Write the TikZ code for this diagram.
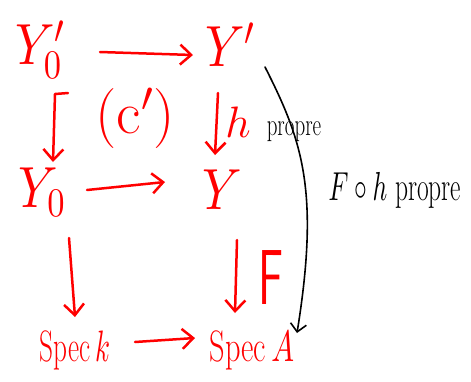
\documentclass[tikz,border=0pt]{standalone}
\DeclareFontShape{OML}{cmm}{m}{it}{<->cmmi10}{}
\DeclareFontShape{OMS}{cmsy}{m}{n}{<->cmsy10}{}
\DeclareFontShape{OT1}{cmr}{m}{n}{<->cmr10}{}
\usetikzlibrary{arrows.meta}
\begin{document}
\begin{tikzpicture}[x=1pt,y=-1pt,
  lab/.style={text=red, inner sep=0pt, font=\fontsize{58}{58}\selectfont},
  slab/.style={text=red, inner sep=0pt, font=\fontsize{44}{44}\selectfont},
  blab/.style={text=black, inner sep=0pt},
  arr/.style={draw=red, line width=2.5pt, line cap=round, line join=round,
    -{Straight Barb[length=11pt,width=20pt,line width=2.5pt]}},
  barr/.style={draw=black, line width=1.6pt, line cap=round,
    -{Straight Barb[length=8pt,width=16pt,line width=1.6pt]}}
]
\useasboundingbox (0,0) rectangle (471,381);
\node[lab] (Y0p) at (40,50) {\scalebox{0.85}[1]{$Y_0'$}};
\node[lab] (Yp) at (230,45) {\scalebox{0.85}[1]{$Y'$}};
\node[lab, font=\fontsize{60}{60}\selectfont] (c) at (135,118) {(c$'$)};
\node[slab] (h) at (238,122) {$h$};
\node[blab, font=\fontsize{21}{21}\selectfont] (pr) at (294,132) {\scalebox{1}[1.5]{propre}};
\node[lab] (Y0) at (42,192) {\scalebox{0.85}[1]{$Y_0$}};
\node[lab] (Y) at (222,190) {\scalebox{0.85}[1]{$Y$}};
\node[lab, font=\fontsize{78}{78}\selectfont\sffamily] (F) at (271,278) {\scalebox{0.6}[1]{F}};
\node[slab] (Sk) at (75,350) {\scalebox{0.62}[1]{Spec\,$k$}};
\node[slab] (SA) at (252,350) {\scalebox{0.69}[1]{Spec\,$A$}};
\node[blab, font=\fontsize{30}{30}\selectfont] (Fh) at (395,190) {\scalebox{0.85}[1.35]{$F\circ h$ propre}};
% top row
\draw[arr] ([shift={(60,2)}]Y0p.center) -- ([shift={(-37,10)}]Yp.center);
% middle row
\draw[arr] ([shift={(45,-2)}]Y0.center) -- ([shift={(-57,-8)}]Y.center);
% bottom row
\draw[arr] ([shift={(60,-8)}]Sk.center) -- ([shift={(-57,-12)}]SA.center);
% verticals
\draw[arr] ([shift={(28,43)}]Y0p.center) -- ([shift={(15,44)}]Y0p.center) -- ([shift={(11,-30)}]Y0.center);
\draw[arr] ([shift={(-12,48)}]Yp.center) -- ([shift={(-7,-35)}]Y.center);
\draw[arr] ([shift={(27,46)}]Y0.center) -- ([shift={(0,-33)}]Sk.center);
\draw[arr] ([shift={(15,50)}]Y.center) -- ([shift={(-17,-37)}]SA.center);
% black curved arrow
\coordinate (bs) at (265,67);
\draw[barr] (bs) .. controls (302,140) and (320,190) .. (297,333) coordinate (be);
\end{tikzpicture}
\end{document}
